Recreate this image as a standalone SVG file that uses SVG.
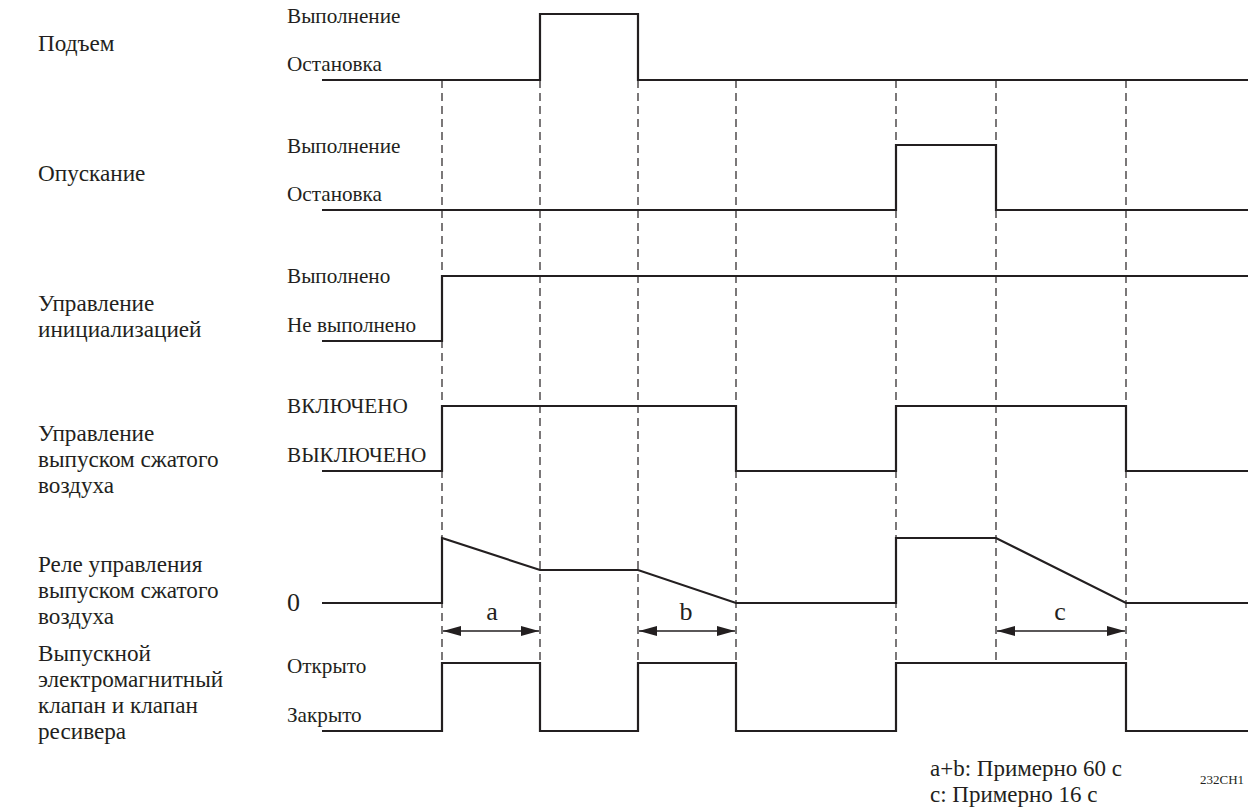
<svg xmlns="http://www.w3.org/2000/svg" width="1252" height="807" viewBox="0 0 1252 807">
<defs>
<style>
text{font-family:'Liberation Serif','DejaVu Serif','Times New Roman',serif;fill:#231f20}
.lbl{font-size:23.2px}
.st{font-size:21.2px}
.big{font-size:23px}
.ltr{font-size:26px}
.sig{fill:none;stroke:#231f20;stroke-width:2.2;stroke-linejoin:miter}
.dash{fill:none;stroke:#231f20;stroke-width:1.2;stroke-dasharray:8 5}
.dim{fill:none;stroke:#231f20;stroke-width:1.3}
</style>
<marker id="ah" viewBox="0 0 18 10" refX="18" refY="5" markerWidth="19" markerHeight="10" markerUnits="userSpaceOnUse" orient="auto-start-reverse">
<path d="M0,0 L18,5 L0,10 Z" fill="#231f20"/>
</marker>
</defs>
<rect width="1252" height="807" fill="#ffffff"/>

<g id="connectors">
<path class="dash" d="M442,80V663 M540,80V663 M638,80V663 M736,80V663 M896,80V663 M996,80V663 M1126,80V663"/>
<line class="dim" x1="443" y1="631" x2="539" y2="631" marker-start="url(#ah)" marker-end="url(#ah)"/>
<line class="dim" x1="639" y1="631" x2="735" y2="631" marker-start="url(#ah)" marker-end="url(#ah)"/>
<line class="dim" x1="997" y1="631" x2="1125" y2="631" marker-start="url(#ah)" marker-end="url(#ah)"/>
</g>

<g id="signal-lift">
<text class="lbl" x="38" y="51">Подъем</text>
<text class="st" x="287" y="23">Выполнение</text>
<text class="st" x="287" y="71">Остановка</text>
<path class="sig" d="M322,80H540V14H638V80H1248"/>
</g>

<g id="signal-lower">
<text class="lbl" x="38" y="181">Опускание</text>
<text class="st" x="287" y="153">Выполнение</text>
<text class="st" x="287" y="201">Остановка</text>
<path class="sig" d="M322,210H896V145H996V210H1248"/>
</g>

<g id="signal-init">
<text class="lbl" x="38" y="311">Управление</text>
<text class="lbl" x="38" y="337">инициализацией</text>
<text class="st" x="287" y="283">Выполнено</text>
<text class="st" x="287" y="332">Не выполнено</text>
<path class="sig" d="M322,341H442V276H1248"/>
</g>

<g id="signal-air">
<text class="lbl" x="38" y="441">Управление</text>
<text class="lbl" x="38" y="467">выпуском сжатого</text>
<text class="lbl" x="38" y="493">воздуха</text>
<text class="st" x="287" y="413">ВКЛЮЧЕНО</text>
<text class="st" x="287" y="462">ВЫКЛЮЧЕНО</text>
<path class="sig" d="M322,471H442V406H736V471H896V406H1126V471H1248"/>
</g>

<g id="signal-relay">
<text class="lbl" x="38" y="572">Реле управления</text>
<text class="lbl" x="38" y="598">выпуском сжатого</text>
<text class="lbl" x="38" y="624">воздуха</text>
<text class="ltr" x="287" y="611">0</text>
<path class="sig" d="M322,603H442V538L540,570H638L736,603H896V538H996L1126,603H1248"/>
<text class="ltr" x="492" y="620" text-anchor="middle">a</text>
<text class="ltr" x="686" y="620" text-anchor="middle">b</text>
<text class="ltr" x="1060" y="620" text-anchor="middle">c</text>
</g>

<g id="signal-valve">
<text class="lbl" x="38" y="661">Выпускной</text>
<text class="lbl" x="38" y="687">электромагнитный</text>
<text class="lbl" x="38" y="713">клапан и клапан</text>
<text class="lbl" x="38" y="739">ресивера</text>
<text class="st" x="287" y="673">Открыто</text>
<text class="st" x="287" y="722">Закрыто</text>
<path class="sig" d="M322,731H442V663H540V731H638V663H736V731H896V663H1126V731H1248"/>
</g>

<g id="notes">
<text class="big" x="930" y="776">a+b: Примерно 60 с</text>
<text class="big" x="930" y="802">с: Примерно 16 с</text>
<text x="1200" y="784" style="font-size:13px">232CH1</text>
</g>
</svg>
